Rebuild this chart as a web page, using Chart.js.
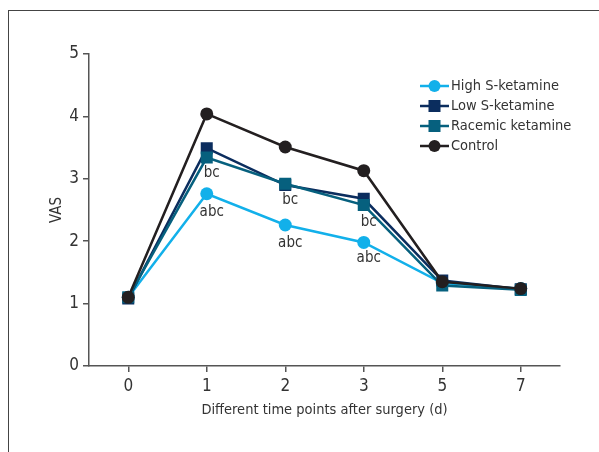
<!DOCTYPE html>
<html>
<head>
<meta charset="utf-8">
<script src="https://cdn.jsdelivr.net/npm/chart.js@4.4.1/dist/chart.umd.min.js"></script>
<style>
  html, body { margin: 0; padding: 0; background: #fff; }
  #wrap { position: relative; width: 599px; height: 452px; }
  #frame { position: absolute; left: 8px; top: 10px; right: 0; bottom: 0;
           border-left: 1px solid #444; border-top: 1px solid #444; }
  canvas { position: absolute; left: 0; top: 0; }
</style>
</head>
<body>
<div id="wrap">
  <div id="frame"></div>
  <canvas id="vasChart" width="599" height="452"></canvas>
</div>
<script>
// ── Data ───────────────────────────────────────────────
const days        = ['0', '1', '2', '3', '5', '7'];
const highS       = [1.10, 2.76, 2.26, 1.98, 1.33, 1.24];
const lowS        = [1.08, 3.49, 2.90, 2.68, 1.37, 1.23];
const racemic     = [1.10, 3.34, 2.92, 2.58, 1.29, 1.22];
const control     = [1.10, 4.04, 3.51, 3.13, 1.35, 1.24];
const yTicks      = [0, 1, 2, 3, 4, 5];

// significance marks: [category, value position, text]
const marks = [
  ['1', 3.09, 'bc'], ['1', 2.46, 'abc'],
  ['2', 2.66, 'bc'], ['2', 1.97, 'abc'],
  ['3', 2.31, 'bc'], ['3', 1.73, 'abc'],
];

const FONT   = "'Liberation Sans Narrow', 'DejaVu Sans Condensed', sans-serif";
const txt    = '#333';
const axisC  = '#555';

const series = [
  { label: 'High S-ketamine',  data: highS,   color: '#12b0ea', style: 'circle', r: 6.5 },
  { label: 'Low S-ketamine',   data: lowS,    color: '#0b2d5e', style: 'rect',   r: 8.5 },
  { label: 'Racemic ketamine', data: racemic, color: '#06607e', style: 'rect',   r: 8.5 },
  { label: 'Control',          data: control, color: '#231f20', style: 'circle', r: 6.5 },
];

// draw order: control at back, high S in front
const drawOrder = [3, 2, 1, 0];

// ── Plugins ───────────────────────────────────────────
const markLabels = {
  id: 'markLabels',
  afterDatasetsDraw(chart) {
    const { ctx, scales: { x, y } } = chart;
    ctx.save();
    ctx.fillStyle = txt;
    ctx.font = '15px ' + FONT;
    ctx.textAlign = 'center';
    ctx.textBaseline = 'middle';
    marks.forEach(([cat, v, t]) => {
      ctx.fillText(t, x.getPixelForValue(days.indexOf(cat)) + 5, y.getPixelForValue(v));
    });
    ctx.restore();
  }
};

const sideLegend = {
  id: 'sideLegend',
  afterDraw(chart) {
    const { ctx } = chart;
    const x0 = 420, y0 = 86, gap = 20;
    ctx.save();
    ctx.font = '14.5px ' + FONT;
    ctx.textBaseline = 'middle';
    series.forEach((s, i) => {
      const yy = y0 + i * gap;
      ctx.strokeStyle = s.color;
      ctx.lineWidth = 2.5;
      ctx.beginPath();
      ctx.moveTo(x0, yy);
      ctx.lineTo(x0 + 29, yy);
      ctx.stroke();
      ctx.fillStyle = s.color;
      if (s.style === 'circle') {
        ctx.beginPath();
        ctx.arc(x0 + 14.5, yy, 6, 0, Math.PI * 2);
        ctx.fill();
      } else {
        ctx.fillRect(x0 + 14.5 - 6, yy - 6, 12, 12);
      }
      ctx.fillStyle = txt;
      ctx.fillText(s.label, x0 + 31, yy);
    });
    ctx.restore();
  }
};

// ── Chart ─────────────────────────────────────────────
new Chart(document.getElementById('vasChart'), {
  type: 'line',
  data: {
    labels: days,
    datasets: drawOrder.map(i => {
      const s = series[i];
      return {
        label: s.label,
        data: s.data,
        borderColor: s.color,
        backgroundColor: s.color,
        borderWidth: 2.5,
        pointStyle: s.style,
        pointRadius: s.r,
        pointBorderWidth: 0,
        pointBackgroundColor: s.color,
        tension: 0,
      };
    }),
  },
  options: {
    responsive: false,
    animation: false,
    layout: { padding: { top: 54, right: 39, bottom: 0, left: 0 } },
    plugins: { legend: { display: false }, tooltip: { enabled: false } },
    scales: {
      x: {
        offset: true,
        afterFit: s => { s.height = 86; },
        grid: { offset: false, drawOnChartArea: false, drawTicks: true, tickLength: 6, color: axisC, lineWidth: 1.5 },
        border: { display: true, color: axisC, width: 1.5 },
        ticks: { color: txt, font: { family: FONT, size: 17 }, padding: 4, maxRotation: 0 },
        title: { display: true, text: 'Different time points after surgery (d)', color: txt,
                 font: { family: FONT, size: 14.5 }, padding: { top: 0, bottom: 33 } },
      },
      y: {
        min: 0, max: 5,
        afterFit: s => { s.width = 89; },
        afterBuildTicks: s => { s.ticks = yTicks.map(v => ({ value: v })); },
        grid: { drawOnChartArea: false, drawTicks: true, tickLength: 6, color: axisC, lineWidth: 1.5 },
        border: { display: true, color: axisC, width: 1.5 },
        ticks: { color: txt, font: { family: FONT, size: 17 }, padding: 4 },
        title: { display: true, text: 'VAS', color: txt, font: { family: FONT, size: 15 }, padding: { top: 48, bottom: 0 } },
      },
    },
  },
  plugins: [markLabels, sideLegend],
});
</script>
</body>
</html>
